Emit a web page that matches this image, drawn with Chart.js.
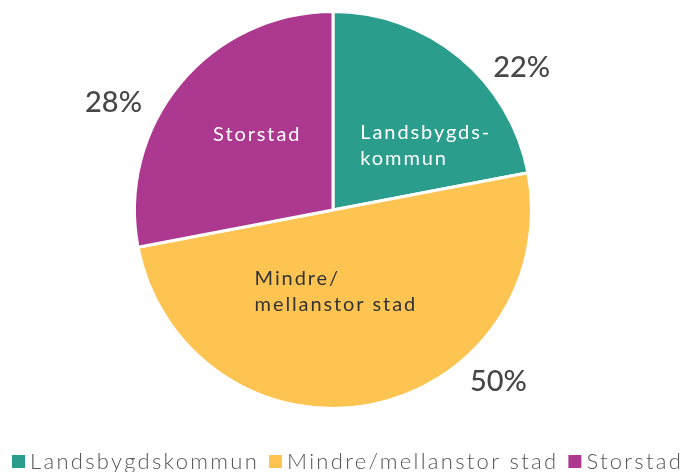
<!DOCTYPE html>
<html>
<head>
<meta charset="utf-8">
<script src="https://cdn.jsdelivr.net/npm/chart.js@4.4.1/dist/chart.umd.min.js"></script>
<style>
  html, body { margin: 0; padding: 0; background: #fff; }
  #wrap { width: 681px; height: 472px; position: relative; }
</style>
</head>
<body>
<div id="wrap"><canvas id="chart"></canvas></div>
<script>
"use strict";

const categories = ["Landsbygdskommun", "Mindre/mellanstor stad", "Storstad"];
const shares = [22, 50, 28];
const innerLabels = [["Landsbygds-", "kommun"], ["Mindre/", "mellanstor stad"], ["Storstad"]];
const colors = ["#2a9d8c", "#fdc452", "#ad3890"];

// label anchors as polar offsets from the pie centre (angle in degrees, radius factor)
const innerAnchors = [[-35, 0.57], [88, 0.41], [-135, 0.54]];
const outerAnchors = [[-37, 1.19], [46, 1.20], [-154, 1.23]];
const innerColors = ["#ffffff", "#333333", "#ffffff"];

const FONT = "Lato, 'Open Sans', sans-serif";

const sliceLabels = {
    id: "sliceLabels",
    afterDatasetsDraw(chart) {
        const ctx = chart.ctx;
        const arc0 = chart.getDatasetMeta(0).data[0];
        const cx = arc0.x, cy = arc0.y, r = arc0.outerRadius;
        const at = (a, f) => [cx + Math.cos(a * Math.PI / 180) * r * f, cy + Math.sin(a * Math.PI / 180) * r * f];

        ctx.save();
        ctx.textBaseline = "middle";

        shares.forEach((v, i) => {
            // value label outside the pie
            const [ox, oy] = at(outerAnchors[i][0], outerAnchors[i][1]);
            ctx.font = "500 29px " + FONT;
            ctx.fillStyle = "#474747";
            ctx.letterSpacing = "0px";
            ctx.textAlign = "center";
            ctx.fillText(v + "%", ox, oy);

            // category label inside the slice
            const [ix, iy] = at(innerAnchors[i][0], innerAnchors[i][1]);
            const lines = innerLabels[i];
            ctx.font = "400 20px " + FONT;
            ctx.letterSpacing = "1.9px";
            ctx.fillStyle = innerColors[i];
            ctx.textAlign = lines.length > 1 ? "left" : "center";
            let w = 0;
            lines.forEach(l => { w = Math.max(w, ctx.measureText(l).width); });
            const x0 = lines.length > 1 ? ix - w / 2 : ix;
            lines.forEach((l, k) => {
                ctx.fillText(l, x0, iy + (k - (lines.length - 1) / 2) * 26);
            });
        });
        ctx.restore();
    }
};

// legend row under the pie, tighter than the built-in one
const bottomLegend = {
    id: "bottomLegend",
    afterDraw(chart) {
        const ctx = chart.ctx;
        const ds = chart.data.datasets[0];
        const y = chart.height - 10;
        let x = 12;
        ctx.save();
        ctx.font = "300 22px " + FONT;
        ctx.letterSpacing = "2.3px";
        ctx.textAlign = "left";
        ctx.textBaseline = "middle";
        chart.data.labels.forEach((lab, i) => {
            ctx.fillStyle = ds.backgroundColor[i];
            ctx.fillRect(x, y - 7, 13, 13);
            x += 18;
            ctx.fillStyle = "#555555";
            ctx.fillText(lab, x, y);
            x += ctx.measureText(lab).width + 10;
        });
        ctx.restore();
    }
};

new Chart(document.getElementById("chart"), {
    type: "pie",
    data: {
        labels: categories,
        datasets: [{
            data: shares,
            backgroundColor: colors,
            borderColor: "#ffffff",
            borderWidth: 3,
            hoverOffset: 0
        }]
    },
    options: {
        responsive: true,
        maintainAspectRatio: false,
        animation: false,
        layout: { padding: { top: 10, bottom: 62, left: 0, right: 15 } },
        plugins: {
            tooltip: { enabled: false },
            legend: { display: false }
        }
    },
    plugins: [sliceLabels, bottomLegend]
});
</script>
</body>
</html>
